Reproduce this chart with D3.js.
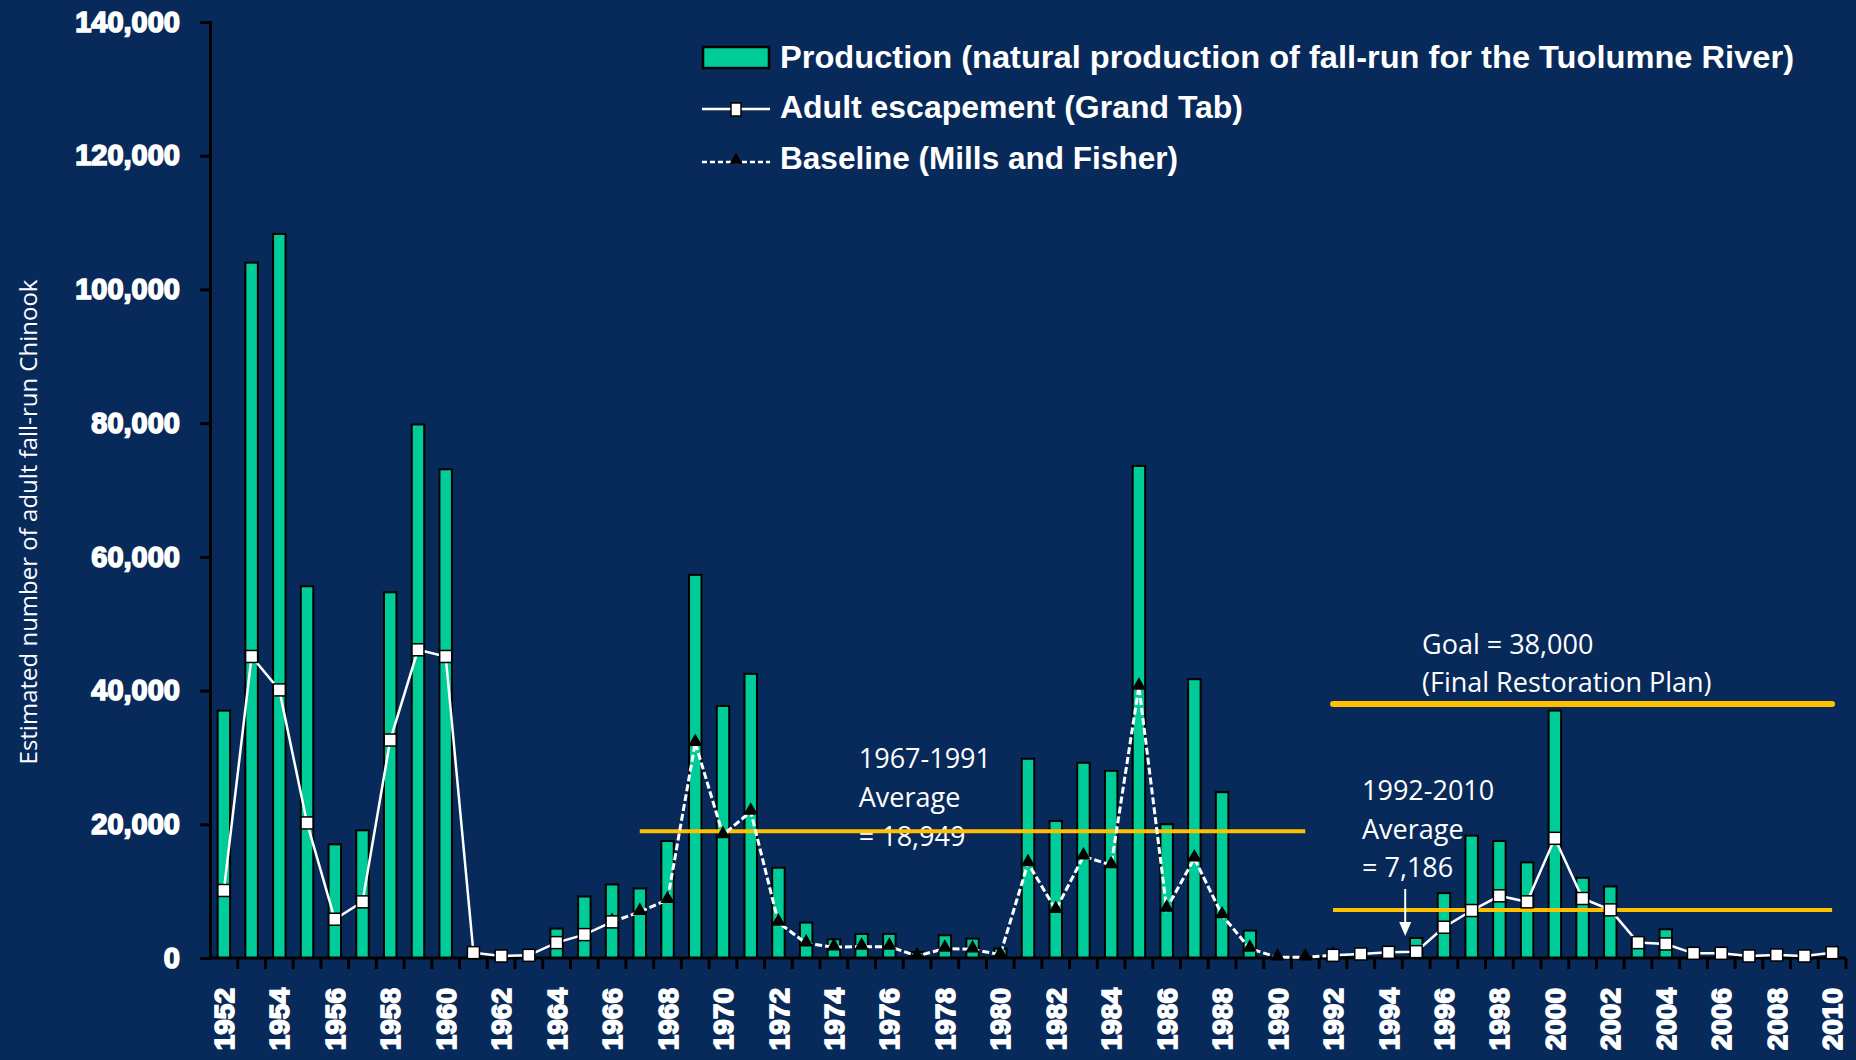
<!DOCTYPE html>
<html>
<head>
<meta charset="utf-8">
<script src="https://cdn.jsdelivr.net/npm/d3@7"></script>
<style>
  html, body { margin: 0; padding: 0; background: #082a5a; }
  svg { display: block; }
</style>
</head>
<body>
<div id="chart"></div>
<script>
// years on the x axis
const years = d3.range(1952, 2011);

// Production (natural production of fall-run for the Tuolumne River)
const production = [
  37000, 104000, 108300, 55600, 17000, 19100, 54700, 79800, 73100, null,
  null, null, 4400, 9200, 11000, 10400, 17500, 57300, 37700, 42500,
  13500, 5300, 2800, 3600, 3600, 900, 3400, 2900, 1400, 29800,
  20500, 29200, 28000, 73600, 20000, 41700, 24800, 4100, null, null,
  null, null, null, 3000, 9700, 18300, 17500, 14300, 37000, 12000,
  10700, 2900, 4300, null, null, null, null, null, null
];

// Adult escapement (Grand Tab)
const escapement = [
  10100, 45100, 40100, 20200, 5800, 8400, 32600, 46100, 45100, 800,
  300, 400, 2300, 3500, 5400, null, null, null, null, null,
  null, null, null, null, null, null, null, null, null, null,
  null, null, null, null, null, null, null, null, null, null,
  400, 600, 850, 950, 4600, 7100, 9300, 8400, 17900, 8900,
  7200, 2300, 2100, 700, 700, 300, 450, 300, 800
];

// Baseline (Mills and Fisher), joined to the escapement series at 1966 and 1992
const baseline = [
  null, null, null, null, null, null, null, null, null, null,
  null, null, null, null, 5400, 6900, 8700, 32200, 18400, 21900,
  5300, 2200, 1600, 1700, 1700, 300, 1400, 1300, 500, 14200,
  7200, 15200, 13900, 40600, 7400, 14900, 6400, 1400, 100, 100,
  400, null, null, null, null, null, null, null, null, null,
  null, null, null, null, null, null, null, null, null
];

const yTicks = [0, 20000, 40000, 60000, 80000, 100000, 120000, 140000];
const labelYears = years.filter(d => d % 2 === 0);

// reference lines
const refLines = [
  { from: 1967, to: 1991, value: 18949, width: 4, cap: "butt" },
  { from: 1992, to: 2010, value: 7186, width: 4, cap: "butt" },
  { from: 1992, to: 2010, value: 38000, width: 6, cap: "round" }
];

const W = 1856, H = 1060;
const bg = "#082a5a", green = "#00cc99", gold = "#ffc000";
const boldFont = "'Liberation Sans', Arial, sans-serif";
const textFont = "'Open Sans', 'Noto Sans', sans-serif";

const svg = d3.select("#chart").append("svg")
  .attr("width", W)
  .attr("height", H)
  .style("background", bg);

const x = d3.scaleBand().domain(years).range([210, 1846]);
const y = d3.scaleLinear().domain([0, 140000]).range([958, 22]);
const cx = d => x(d) + x.bandwidth() / 2;
const barW = x.bandwidth() * 0.45;

// bars
svg.append("g").selectAll("rect")
  .data(years.map((d, i) => ({ year: d, v: production[i] })).filter(d => d.v != null))
  .join("rect")
  .attr("x", d => cx(d.year) - barW / 2)
  .attr("y", d => y(d.v))
  .attr("width", barW)
  .attr("height", d => y(0) - y(d.v))
  .attr("fill", green)
  .attr("stroke", "#000")
  .attr("stroke-width", 2);

// annotation texts (under the gold lines)
const notes = svg.append("g")
  .attr("fill", "#fff")
  .attr("font-family", textFont)
  .attr("font-size", 27);

function note(xPos, yPos, lines, gap) {
  lines.forEach((t, i) => {
    notes.append("text").attr("x", xPos).attr("y", yPos + i * gap).text(t);
  });
}
note(cx(1967) + 219, 768, ["1967-1991", "Average", "= 18,949"], 39);
note(cx(1992) + 29, 800, ["1992-2010", "Average", "= 7,186"], 38.5);
note(cx(1992) + 89, 654, ["Goal = 38,000", "(Final Restoration Plan)"], 38);

// gold reference lines
svg.append("g").selectAll("line")
  .data(refLines)
  .join("line")
  .attr("x1", d => cx(d.from))
  .attr("x2", d => cx(d.to))
  .attr("y1", d => y(d.value))
  .attr("y2", d => y(d.value))
  .attr("stroke", gold)
  .attr("stroke-width", d => d.width)
  .attr("stroke-linecap", d => d.cap);

// arrow to the 1992-2010 average
const ax = cx(1995) - 11;
svg.append("line")
  .attr("x1", ax).attr("x2", ax)
  .attr("y1", 889).attr("y2", 924)
  .attr("stroke", "#fff").attr("stroke-width", 2);
svg.append("path")
  .attr("d", `M${ax - 6},922 L${ax + 6},922 L${ax},936 Z`)
  .attr("fill", "#fff");

// y axis
const yAxis = svg.append("g")
  .attr("transform", "translate(210,0)")
  .call(d3.axisLeft(y).tickValues(yTicks).tickFormat(d3.format(",")).tickSize(10).tickPadding(20));
yAxis.select(".domain").attr("stroke", "#000").attr("stroke-width", 3);
yAxis.selectAll(".tick line").attr("stroke", "#000").attr("stroke-width", 3);
yAxis.selectAll(".tick text")
  .attr("fill", "#fff")
  .attr("stroke", "#fff")
  .attr("stroke-width", 1.6)
  .attr("font-family", boldFont)
  .attr("font-weight", "bold")
  .attr("font-size", 29);

// x axis
const xAxis = svg.append("g");
xAxis.append("line")
  .attr("x1", 210).attr("x2", 1846)
  .attr("y1", y(0)).attr("y2", y(0))
  .attr("stroke", "#000").attr("stroke-width", 3);
xAxis.selectAll("line.tick")
  .data(years.slice(1).concat([null]))
  .join("line")
  .attr("class", "tick")
  .attr("x1", d => d == null ? x(2010) + x.bandwidth() : x(d))
  .attr("x2", d => d == null ? x(2010) + x.bandwidth() : x(d))
  .attr("y1", y(0)).attr("y2", y(0) + 11)
  .attr("stroke", "#000").attr("stroke-width", 3);
xAxis.selectAll("text")
  .data(labelYears)
  .join("text")
  .attr("transform", d => `translate(${cx(d)},988) rotate(-90)`)
  .attr("text-anchor", "end")
  .attr("dy", "0.36em")
  .attr("fill", "#fff")
  .attr("stroke", "#fff")
  .attr("stroke-width", 1.6)
  .attr("font-family", boldFont)
  .attr("font-weight", "bold")
  .attr("font-size", 28)
  .text(d => d);

// y axis title
svg.append("text")
  .attr("transform", "translate(37,522) rotate(-90)")
  .attr("text-anchor", "middle")
  .attr("fill", "#fff")
  .attr("font-family", textFont)
  .attr("font-size", 24)
  .text("Estimated number of adult fall-run Chinook");

// series lines
const pts = arr => years.map((d, i) => ({ year: d, v: arr[i] }));
const line = d3.line()
  .defined(d => d.v != null)
  .x(d => cx(d.year))
  .y(d => y(d.v));

svg.append("path")
  .datum(pts(baseline))
  .attr("d", line)
  .attr("fill", "none")
  .attr("stroke", "#fff")
  .attr("stroke-width", 3)
  .attr("stroke-dasharray", "7,3");

svg.append("path")
  .datum(pts(escapement))
  .attr("d", line)
  .attr("fill", "none")
  .attr("stroke", "#fff")
  .attr("stroke-width", 2.5);

// markers
svg.append("g").selectAll("path")
  .data(pts(baseline).filter(d => d.v != null))
  .join("path")
  .attr("transform", d => `translate(${cx(d.year)},${y(d.v) - 1})`)
  .attr("d", d3.symbol(d3.symbolTriangle, 90))
  .attr("fill", "#000");

svg.append("g").selectAll("rect")
  .data(pts(escapement).filter(d => d.v != null))
  .join("rect")
  .attr("x", d => cx(d.year) - 6)
  .attr("y", d => y(d.v) - 6)
  .attr("width", 12)
  .attr("height", 12)
  .attr("fill", "#fff")
  .attr("stroke", "#000")
  .attr("stroke-width", 1.5);

// legend
const legend = svg.append("g");
legend.append("rect")
  .attr("x", 703).attr("y", 47).attr("width", 66).attr("height", 21)
  .attr("fill", green).attr("stroke", "#000").attr("stroke-width", 2.5);

legend.append("line")
  .attr("x1", 702).attr("x2", 770).attr("y1", 109).attr("y2", 109)
  .attr("stroke", "#fff").attr("stroke-width", 2.5);
legend.append("rect")
  .attr("x", 731).attr("y", 103).attr("width", 10).attr("height", 13)
  .attr("fill", "#fff").attr("stroke", "#000").attr("stroke-width", 1.5);

legend.append("line")
  .attr("x1", 702).attr("x2", 770).attr("y1", 162).attr("y2", 162)
  .attr("stroke", "#fff").attr("stroke-width", 2.5).attr("stroke-dasharray", "5,3");
legend.append("path")
  .attr("transform", "translate(736,160)")
  .attr("d", d3.symbol(d3.symbolTriangle, 70))
  .attr("fill", "#000");

const legendItems = [
  { text: "Production (natural production of fall-run for the Tuolumne River)", y: 68, len: 1014 },
  { text: "Adult escapement (Grand Tab)", y: 118, len: 463 },
  { text: "Baseline (Mills and Fisher)", y: 169, len: 398 }
];
legend.selectAll("text")
  .data(legendItems)
  .join("text")
  .attr("x", 780)
  .attr("y", d => d.y)
  .attr("textLength", d => d.len)
  .attr("lengthAdjust", "spacingAndGlyphs")
  .attr("fill", "#fff")
  .attr("font-family", boldFont)
  .attr("font-weight", "bold")
  .attr("font-size", 31)
  .text(d => d.text);
</script>
</body>
</html>
